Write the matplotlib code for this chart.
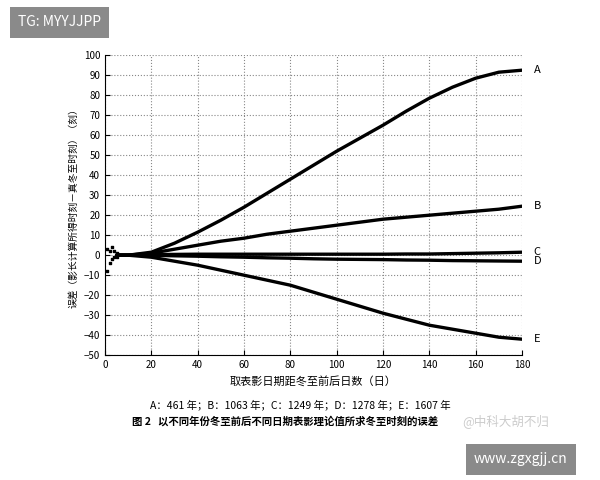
import matplotlib
matplotlib.use("Agg")
import matplotlib.pyplot as plt

plt.rcParams['font.family'] = ['Noto Sans CJK SC', 'DejaVu Sans']

x = [5, 10, 20, 30, 40, 50, 60, 70, 80, 90, 100, 110, 120, 130, 140, 150, 160, 170, 180]
A = [0, 0, 1.5, 6, 11.5, 17.5, 24, 31, 38, 45, 52, 58.5, 65, 72, 78.5, 84, 88.5, 91.5, 92.5]
B = [0, 0, 1, 3, 5, 7, 8.5, 10.5, 12, 13.5, 15, 16.5, 18, 19, 20, 21, 22, 23, 24.5]
C = [0, 0, 0.3, 0.4, 0.5, 0.5, 0.5, 0.5, 0.5, 0.5, 0.5, 0.5, 0.5, 0.6, 0.6, 0.8, 1, 1.2, 1.5]
D = [0, 0, 0, -0.3, -0.5, -0.8, -1, -1.3, -1.5, -1.8, -2, -2.1, -2.2, -2.4, -2.5, -2.7, -2.8, -2.9, -3]
E = [0, 0, -1, -3, -5, -7.5, -10, -12.5, -15, -18.5, -22, -25.5, -29, -32, -35, -37, -39, -41, -42]
labels = ['A', 'B', 'C', 'D', 'E']
noise_x = [1, 1, 2, 2, 3, 3, 4, 4, 5, 5]
noise_y = [-8, 3, -4, 2, -2, 4, -1, 2, -1, 1]

fig = plt.figure(figsize=(6, 4.8), dpi=100)
ax = fig.add_axes([0.175, 0.26, 0.695, 0.625])
for s, lab in zip([A, B, C, D, E], labels):
    ax.plot(x, s, color='black', lw=2.4, solid_capstyle='round', solid_joinstyle='round')
    ax.text(185, s[-1], lab, fontsize=8, va='center', ha='left')
ax.scatter(noise_x, noise_y, s=4, color='black', marker='s')
ax.set_xlim(0, 180)
ax.set_ylim(-50, 100)
ax.set_xticks(range(0, 181, 20))
ax.set_yticks(range(-50, 101, 10))
ax.tick_params(labelsize=7, direction='in')
ax.grid(True, linestyle=':', color='#888888', lw=0.8)
for sp in ['top', 'right']:
    ax.spines[sp].set_visible(False)
ax.set_xlabel('取表影日期距冬至前后日数（日）', fontsize=8)
ax.set_ylabel('误差（影长计算所得时刻－真冬至时刻）（刻）', fontsize=7)
fig.text(0.5, 0.15, 'A：461 年；B：1063 年；C：1249 年；D：1278 年；E：1607 年', fontsize=7.5, ha='center')
fig.text(0.22, 0.115, '图 2   以不同年份冬至前后不同日期表影理论值所求冬至时刻的误差', fontsize=7.5, ha='left', weight='bold')
fig.text(0.77, 0.115, '@中科大胡不归', fontsize=9, color='#cccccc', ha='left')
fig.text(0.03, 0.945, 'TG: MYYJJPP', fontsize=10, color='white',
         bbox=dict(facecolor='#8a8a8a', edgecolor='none', pad=6))
fig.text(0.79, 0.035, 'www.zgxgjj.cn', fontsize=10, color='white',
         bbox=dict(facecolor='#8a8a8a', edgecolor='none', pad=6))
fig.savefig('out.png', dpi=100)
